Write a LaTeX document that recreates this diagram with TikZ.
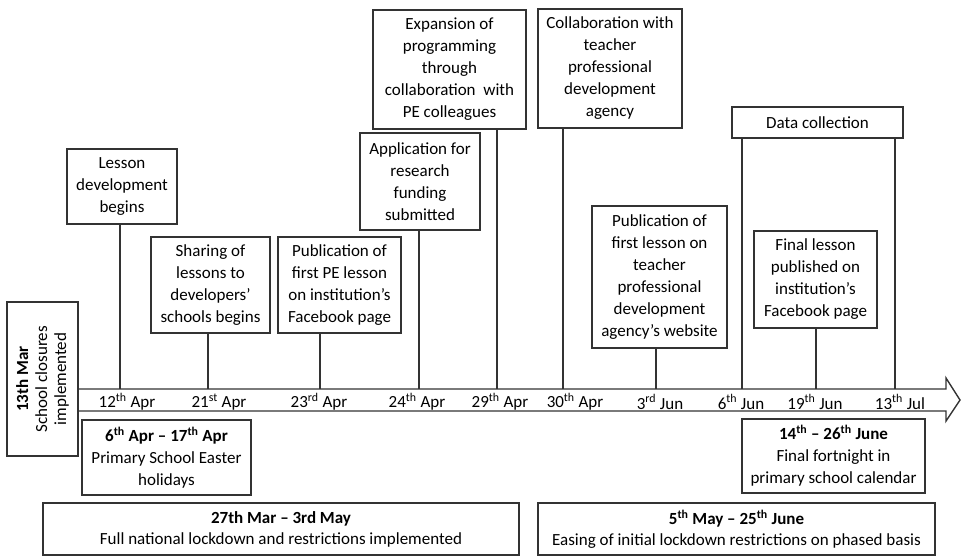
\documentclass[tikz,border=0pt]{standalone}
\usepackage{fontspec}
\setmainfont{Carlito}
\begin{document}
\begin{tikzpicture}[x=1pt,y=-1pt,
  ln/.style={draw=black!80,line width=1.4pt},
  box/.style={ln,fill=white,align=center,inner sep=0pt,font=\fontsize{17}{22}\selectfont},
  datelbl/.style={inner sep=0pt,font=\fontsize{17}{20}\selectfont}]
\useasboundingbox (0,0) rectangle (962,557);
% timeline arrow
\draw[ln,line join=miter] (76,389) -- (946,389) -- (946,378) -- (960,400) -- (946,421) -- (946,411) -- (76,411) -- cycle;
% points on the arrow
\foreach \n/\x in {d1/120,d2/208,d3/320,d4/419,d5/497,d6/563,d7/656,d8/742,d9/816,d10/895}
  \coordinate (\n) at (\x,389);
% date labels
\node[datelbl] (l1) at (127,402) {12\textsuperscript{th} Apr};
\node[datelbl] (l2) at (219,402) {21\textsuperscript{st} Apr};
\node[datelbl] (l3) at (319,402) {23\textsuperscript{rd} Apr};
\node[datelbl] (l4) at (417,402) {24\textsuperscript{th} Apr};
\node[datelbl] (l5) at (500,402) {29\textsuperscript{th} Apr};
\node[datelbl] (l6) at (575,402) {30\textsuperscript{th} Apr};
\node[datelbl] (l7) at (660,402) {3\textsuperscript{rd} Jun};
\node[datelbl] (l8) at (741,402) {6\textsuperscript{th} Jun};
\node[datelbl] (l9) at (815,402) {19\textsuperscript{th} Jun};
\node[datelbl] (l10) at (900,402) {13\textsuperscript{th} Jul};
% event boxes
\node[box,minimum width=110,minimum height=75] (lesson) at (122,186.5) {Lesson\\development\\begins};
\node[box,minimum width=119,minimum height=96] (sharing) at (210.5,285) {Sharing of\\lessons to\\developers’\\schools begins};
\node[box,minimum width=123,minimum height=96] (pubpe) at (339.5,285) {Publication of\\first PE lesson\\on institution’s\\Facebook page};
\node[box,minimum width=120,minimum height=97] (appl) at (420,181.5) {Application for\\research\\funding\\submitted};
\node[box,minimum width=153,minimum height=119] (expan) at (449.5,69.5) {Expansion of\\programming\\through\\collaboration\ \ with\\PE colleagues};
\node[box,minimum width=144,minimum height=119] (collab) at (610,68.5) {Collaboration with\\teacher\\professional\\development\\agency};
\node[box,minimum width=135,minimum height=142] (pubteach) at (659.5,277) {Publication of\\first lesson on\\teacher\\professional\\development\\agency’s website};
\node[box,minimum width=171,minimum height=31] (data) at (817.5,122.5) {Data collection};
\node[box,minimum width=123,minimum height=97] (final) at (815.5,279.5) {Final lesson\\published on\\institution’s\\Facebook page};
% connectors
\draw[ln] (lesson.south -| d1) -- (d1);
\draw[ln] (sharing.south -| d2) -- (d2);
\draw[ln] (pubpe.south -| d3) -- (d3);
\draw[ln] (appl.south -| d4) -- (d4);
\draw[ln] (expan.south -| d5) -- (d5);
\draw[ln] (collab.south -| d6) -- (d6);
\draw[ln] (pubteach.south -| d7) -- (d7);
\draw[ln] (data.south -| d8) -- (d8);
\draw[ln] (final.south -| d9) -- (d9);
\draw[ln] (data.south -| d10) -- (d10);
% period boxes
\node[box,rotate=90,minimum width=154,minimum height=71,font=\fontsize{17}{19}\selectfont] (closures) at (42.5,379) {\textbf{13th Mar}\\School closures\\implemented};
\node[box,minimum width=169,minimum height=75] (easter) at (166.5,457.5) {\textbf{6\textsuperscript{th} Apr – 17\textsuperscript{th} Apr}\\Primary School Easter\\holidays};
\node[box,minimum width=183,minimum height=74] (fortnight) at (833.5,456) {\textbf{14\textsuperscript{th} – 26\textsuperscript{th} June}\\Final fortnight in\\primary school calendar};
\node[box,minimum width=476,minimum height=52,font=\fontsize{17}{21}\selectfont] (lockdown) at (281,529) {\textbf{27th Mar – 3rd May}\\Full national lockdown and restrictions implemented};
\node[box,minimum width=397,minimum height=52,font=\fontsize{17}{21}\selectfont] (easing) at (736.5,529) {\textbf{5\textsuperscript{th} May – 25\textsuperscript{th} June}\\Easing of initial lockdown restrictions on phased basis};
\end{tikzpicture}
\end{document}
